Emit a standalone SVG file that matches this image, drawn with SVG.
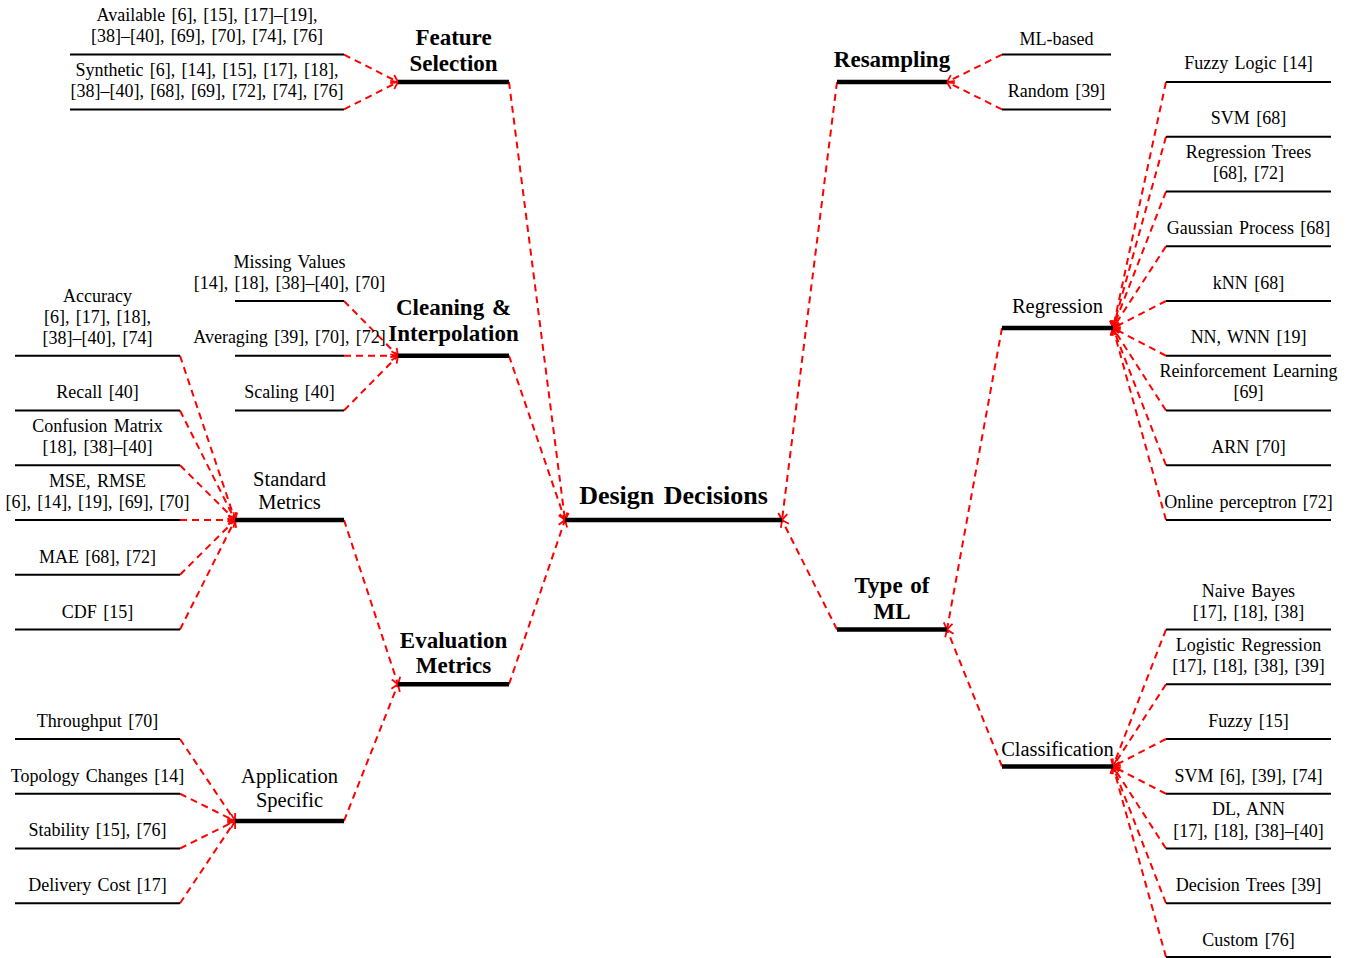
<svg xmlns="http://www.w3.org/2000/svg" width="1355" height="958" viewBox="0 0 1355 958">
<defs>
<style>
text{font-family:"Liberation Serif","Times New Roman",serif;fill:#000;text-anchor:middle}
.lf{font-size:18px;word-spacing:1.8px}
.l3{font-size:20.5px;word-spacing:1.5px}
.l2{font-size:23px;font-weight:bold;word-spacing:2px}
.rt{font-size:26px;font-weight:bold;word-spacing:3px}
.thin{stroke:#000;stroke-width:2}
.thick{stroke:#000;stroke-width:4.5}
.e{stroke:#ff0000;stroke-width:2;stroke-dasharray:7 5;fill:none;marker-end:url(#ah)}
</style>
<marker id="ah" markerUnits="userSpaceOnUse" markerWidth="14" markerHeight="14" refX="0" refY="0" viewBox="-8 -7 10 14" orient="auto" overflow="visible">
<path d="M-6.5,-4.5 Q-1.8,-1.2 0,0 Q-1.8,1.2 -6.5,4.5" fill="none" stroke="#ff0000" stroke-width="1.8" stroke-dasharray="none"/>
</marker>
</defs>
<rect width="1355" height="958" fill="#fff"/>

<g id="connectors">
<line class="e" x1="180" y1="355.75" x2="235" y2="520"/>
<line class="e" x1="180" y1="410.5" x2="235" y2="520"/>
<line class="e" x1="180" y1="465.25" x2="235" y2="520"/>
<line class="e" x1="180" y1="520" x2="235" y2="520"/>
<line class="e" x1="180" y1="574.75" x2="235" y2="520"/>
<line class="e" x1="180" y1="629.5" x2="235" y2="520"/>
<line class="e" x1="180" y1="739" x2="235" y2="821"/>
<line class="e" x1="180" y1="793.75" x2="235" y2="821"/>
<line class="e" x1="180" y1="848.5" x2="235" y2="821"/>
<line class="e" x1="180" y1="903.25" x2="235" y2="821"/>
<line class="e" x1="344" y1="54.6" x2="398" y2="82"/>
<line class="e" x1="344" y1="109.4" x2="398" y2="82"/>
<line class="e" x1="344" y1="301" x2="398" y2="355.75"/>
<line class="e" x1="344" y1="355.75" x2="398" y2="355.75"/>
<line class="e" x1="344" y1="410.5" x2="398" y2="355.75"/>
<line class="e" x1="344" y1="520" x2="398" y2="684.25"/>
<line class="e" x1="344" y1="821" x2="398" y2="684.25"/>
<line class="e" x1="509" y1="82" x2="565" y2="520"/>
<line class="e" x1="509" y1="355.75" x2="565" y2="520"/>
<line class="e" x1="509" y1="684.25" x2="565" y2="520"/>
<line class="e" x1="837" y1="82" x2="782" y2="520"/>
<line class="e" x1="837" y1="629.5" x2="782" y2="520"/>
<line class="e" x1="1002" y1="54.6" x2="947" y2="82"/>
<line class="e" x1="1002" y1="109.4" x2="947" y2="82"/>
<line class="e" x1="1002" y1="328" x2="947" y2="629.5"/>
<line class="e" x1="1002" y1="766.4" x2="947" y2="629.5"/>
<line class="e" x1="1166" y1="82" x2="1113" y2="328"/>
<line class="e" x1="1166" y1="136.75" x2="1113" y2="328"/>
<line class="e" x1="1166" y1="191.5" x2="1113" y2="328"/>
<line class="e" x1="1166" y1="246.25" x2="1113" y2="328"/>
<line class="e" x1="1166" y1="301" x2="1113" y2="328"/>
<line class="e" x1="1166" y1="355.75" x2="1113" y2="328"/>
<line class="e" x1="1166" y1="410.5" x2="1113" y2="328"/>
<line class="e" x1="1166" y1="465.25" x2="1113" y2="328"/>
<line class="e" x1="1166" y1="520" x2="1113" y2="328"/>
<line class="e" x1="1166" y1="629.5" x2="1113" y2="766.4"/>
<line class="e" x1="1166" y1="684.25" x2="1113" y2="766.4"/>
<line class="e" x1="1166" y1="739" x2="1113" y2="766.4"/>
<line class="e" x1="1166" y1="793.75" x2="1113" y2="766.4"/>
<line class="e" x1="1166" y1="848.5" x2="1113" y2="766.4"/>
<line class="e" x1="1166" y1="903.25" x2="1113" y2="766.4"/>
<line class="e" x1="1166" y1="957" x2="1113" y2="766.4"/>
</g>

<g id="design-decisions"><line class="thick" x1="565" y1="520" x2="782" y2="520"/><text class="rt" x="673.5" y="504">Design Decisions</text></g>

<g id="feature-selection"><line class="thick" x1="398" y1="82" x2="509" y2="82"/><text class="l2" x="453.5" y="45">Feature</text><text class="l2" x="453.5" y="71">Selection</text></g>
<g id="cleaning"><line class="thick" x1="398" y1="355.75" x2="509" y2="355.75"/><text class="l2" x="453.5" y="315">Cleaning &amp;</text><text class="l2" x="453.5" y="341">Interpolation</text></g>
<g id="evaluation-metrics"><line class="thick" x1="398" y1="684.25" x2="509" y2="684.25"/><text class="l2" x="453.5" y="648">Evaluation</text><text class="l2" x="453.5" y="673">Metrics</text></g>
<g id="resampling"><line class="thick" x1="837" y1="82" x2="947" y2="82"/><text class="l2" x="892" y="67">Resampling</text></g>
<g id="type-of-ml"><line class="thick" x1="837" y1="629.5" x2="947" y2="629.5"/><text class="l2" x="892" y="593">Type of</text><text class="l2" x="892" y="619">ML</text></g>

<g id="standard-metrics"><line class="thick" x1="235" y1="520" x2="344" y2="520"/><text class="l3" x="289.5" y="486">Standard</text><text class="l3" x="289.5" y="509">Metrics</text></g>
<g id="application-specific"><line class="thick" x1="235" y1="821" x2="344" y2="821"/><text class="l3" x="289.5" y="783">Application</text><text class="l3" x="289.5" y="807">Specific</text></g>
<g id="regression"><line class="thick" x1="1002" y1="328" x2="1113" y2="328"/><text class="l3" x="1057.5" y="313">Regression</text></g>
<g id="classification"><line class="thick" x1="1002" y1="766.4" x2="1113" y2="766.4"/><text class="l3" x="1057.5" y="756">Classification</text></g>

<g id="fs-available"><line class="thin" x1="70" y1="54.6" x2="344" y2="54.6"/><text class="lf" x="207" y="21">Available [6], [15], [17]–[19],</text><text class="lf" x="207" y="42">[38]–[40], [69], [70], [74], [76]</text></g>
<g id="fs-synthetic"><line class="thin" x1="70" y1="109.4" x2="344" y2="109.4"/><text class="lf" x="207" y="76">Synthetic [6], [14], [15], [17], [18],</text><text class="lf" x="207" y="97">[38]–[40], [68], [69], [72], [74], [76]</text></g>

<g id="ci-missing"><line class="thin" x1="235" y1="301" x2="344" y2="301"/><text class="lf" x="289.5" y="268">Missing Values</text><text class="lf" x="289.5" y="289">[14], [18], [38]–[40], [70]</text></g>
<g id="ci-averaging"><line class="thin" x1="235" y1="355.75" x2="344" y2="355.75"/><text class="lf" x="289.5" y="343">Averaging [39], [70], [72]</text></g>
<g id="ci-scaling"><line class="thin" x1="235" y1="410.5" x2="344" y2="410.5"/><text class="lf" x="289.5" y="398">Scaling [40]</text></g>

<g id="sm-accuracy"><line class="thin" x1="15" y1="355.75" x2="180" y2="355.75"/><text class="lf" x="97.5" y="302">Accuracy</text><text class="lf" x="97.5" y="323">[6], [17], [18],</text><text class="lf" x="97.5" y="344">[38]–[40], [74]</text></g>
<g id="sm-recall"><line class="thin" x1="15" y1="410.5" x2="180" y2="410.5"/><text class="lf" x="97.5" y="398">Recall [40]</text></g>
<g id="sm-confusion"><line class="thin" x1="15" y1="465.25" x2="180" y2="465.25"/><text class="lf" x="97.5" y="432">Confusion Matrix</text><text class="lf" x="97.5" y="453">[18], [38]–[40]</text></g>
<g id="sm-mse"><line class="thin" x1="15" y1="520" x2="180" y2="520"/><text class="lf" x="97.5" y="487">MSE, RMSE</text><text class="lf" x="97.5" y="508">[6], [14], [19], [69], [70]</text></g>
<g id="sm-mae"><line class="thin" x1="15" y1="574.75" x2="180" y2="574.75"/><text class="lf" x="97.5" y="563">MAE [68], [72]</text></g>
<g id="sm-cdf"><line class="thin" x1="15" y1="629.5" x2="180" y2="629.5"/><text class="lf" x="97.5" y="618">CDF [15]</text></g>

<g id="as-throughput"><line class="thin" x1="15" y1="739" x2="180" y2="739"/><text class="lf" x="97.5" y="727">Throughput [70]</text></g>
<g id="as-topology"><line class="thin" x1="15" y1="793.75" x2="180" y2="793.75"/><text class="lf" x="97.5" y="782">Topology Changes [14]</text></g>
<g id="as-stability"><line class="thin" x1="15" y1="848.5" x2="180" y2="848.5"/><text class="lf" x="97.5" y="836">Stability [15], [76]</text></g>
<g id="as-delivery"><line class="thin" x1="15" y1="903.25" x2="180" y2="903.25"/><text class="lf" x="97.5" y="891">Delivery Cost [17]</text></g>

<g id="rs-ml"><line class="thin" x1="1002" y1="54.6" x2="1111" y2="54.6"/><text class="lf" x="1056.5" y="45">ML-based</text></g>
<g id="rs-random"><line class="thin" x1="1002" y1="109.4" x2="1111" y2="109.4"/><text class="lf" x="1056.5" y="97">Random [39]</text></g>

<g id="rg-fuzzy"><line class="thin" x1="1166" y1="82" x2="1331" y2="82"/><text class="lf" x="1248.5" y="69">Fuzzy Logic [14]</text></g>
<g id="rg-svm"><line class="thin" x1="1166" y1="136.75" x2="1331" y2="136.75"/><text class="lf" x="1248.5" y="124">SVM [68]</text></g>
<g id="rg-trees"><line class="thin" x1="1166" y1="191.5" x2="1331" y2="191.5"/><text class="lf" x="1248.5" y="158">Regression Trees</text><text class="lf" x="1248.5" y="179">[68], [72]</text></g>
<g id="rg-gauss"><line class="thin" x1="1166" y1="246.25" x2="1331" y2="246.25"/><text class="lf" x="1248.5" y="234">Gaussian Process [68]</text></g>
<g id="rg-knn"><line class="thin" x1="1166" y1="301" x2="1331" y2="301"/><text class="lf" x="1248.5" y="289">kNN [68]</text></g>
<g id="rg-nn"><line class="thin" x1="1166" y1="355.75" x2="1331" y2="355.75"/><text class="lf" x="1248.5" y="343">NN, WNN [19]</text></g>
<g id="rg-rl"><line class="thin" x1="1166" y1="410.5" x2="1331" y2="410.5"/><text class="lf" x="1248.5" y="377">Reinforcement Learning</text><text class="lf" x="1248.5" y="398">[69]</text></g>
<g id="rg-arn"><line class="thin" x1="1166" y1="465.25" x2="1331" y2="465.25"/><text class="lf" x="1248.5" y="453">ARN [70]</text></g>
<g id="rg-online"><line class="thin" x1="1166" y1="520" x2="1331" y2="520"/><text class="lf" x="1248.5" y="508">Online perceptron [72]</text></g>

<g id="cl-nb"><line class="thin" x1="1166" y1="629.5" x2="1331" y2="629.5"/><text class="lf" x="1248.5" y="597">Naive Bayes</text><text class="lf" x="1248.5" y="618">[17], [18], [38]</text></g>
<g id="cl-lr"><line class="thin" x1="1166" y1="684.25" x2="1331" y2="684.25"/><text class="lf" x="1248.5" y="651">Logistic Regression</text><text class="lf" x="1248.5" y="672">[17], [18], [38], [39]</text></g>
<g id="cl-fuzzy"><line class="thin" x1="1166" y1="739" x2="1331" y2="739"/><text class="lf" x="1248.5" y="727">Fuzzy [15]</text></g>
<g id="cl-svm"><line class="thin" x1="1166" y1="793.75" x2="1331" y2="793.75"/><text class="lf" x="1248.5" y="782">SVM [6], [39], [74]</text></g>
<g id="cl-dl"><line class="thin" x1="1166" y1="848.5" x2="1331" y2="848.5"/><text class="lf" x="1248.5" y="815">DL, ANN</text><text class="lf" x="1248.5" y="837">[17], [18], [38]–[40]</text></g>
<g id="cl-dt"><line class="thin" x1="1166" y1="903.25" x2="1331" y2="903.25"/><text class="lf" x="1248.5" y="891">Decision Trees [39]</text></g>
<g id="cl-custom"><line class="thin" x1="1166" y1="957" x2="1331" y2="957"/><text class="lf" x="1248.5" y="946">Custom [76]</text></g>
</svg>
